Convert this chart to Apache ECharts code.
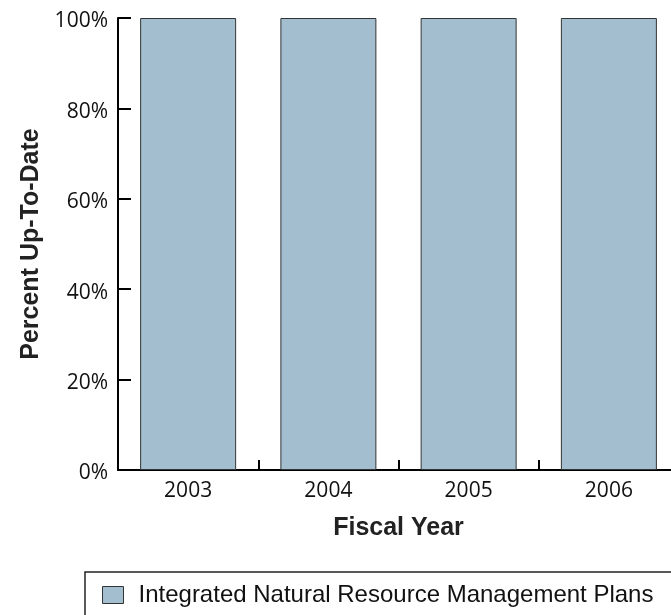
<!DOCTYPE html>
<html>
<head>
<meta charset="utf-8">
<script src="https://cdn.jsdelivr.net/npm/echarts@6/dist/echarts.min.js"></script>
<style>
html,body{margin:0;padding:0;background:#fff;overflow:hidden;}
#c{width:690px;height:630px;}
</style>
</head>
<body>
<div id="c"></div>
<script>
const categories = ['2003', '2004', '2005', '2006'];
const seriesName = 'Integrated Natural Resource Management Plans';
const values = [100, 100, 100, 100];
const yTicks = [0, 20, 40, 60, 80, 100];

const chart = echarts.init(document.getElementById('c'), null, {renderer: 'canvas'});
chart.setOption({
  animation: false,
  backgroundColor: '#ffffff',
  grid: {left: 118, top: 18, width: 561, height: 452, containLabel: false},
  legend: {
    left: 85, top: 572,
    data: [{name: seriesName, icon: 'rect'}],
    itemWidth: 21, itemHeight: 17, itemGap: 10,
    padding: [11, 40, 40, 17],
    borderColor: '#222', borderWidth: 1.5,
    textStyle: {fontFamily: 'Liberation Sans, Arial', fontSize: 24, color: '#111', padding: [0, 0, 0, 10]},
    itemStyle: {borderColor: '#333', borderWidth: 1}
  },
  xAxis: {
    type: 'category',
    data: categories,
    boundaryGap: true,
    name: 'Fiscal Year',
    nameLocation: 'middle',
    nameGap: 46,
    nameTextStyle: {fontFamily: 'Liberation Sans, Arial', fontWeight: 'bold', fontSize: 25, color: '#222'},
    axisLine: {show: true, lineStyle: {color: '#000', width: 2}},
    axisTick: {show: true, inside: true, length: 10, lineStyle: {color: '#000', width: 2}},
    axisLabel: {fontFamily: 'Open Sans', fontSize: 21, color: '#111', margin: 11}
  },
  yAxis: {
    type: 'value',
    min: 0, max: 100, interval: 20,
    name: 'Percent Up-To-Date',
    nameLocation: 'middle',
    nameGap: 72,
    nameRotate: 90,
    nameTextStyle: {fontFamily: 'Liberation Sans, Arial', fontWeight: 'bold', fontSize: 25, color: '#222'},
    axisLine: {show: true, lineStyle: {color: '#000', width: 2}},
    axisTick: {show: true, inside: true, length: 13, lineStyle: {color: '#000', width: 2}},
    splitLine: {show: false},
    axisLabel: {fontFamily: 'Open Sans', fontSize: 21, color: '#111', margin: 10,
      rich: {p: {fontFamily: 'Open Sans', fontSize: 21, color: '#111', padding: [7, 0, 0, 0]}},
      formatter: function (v) { return yTicks.indexOf(v) >= 0 ? '{p|' + v + '%}' : ''; }}
  },
  series: [{
    name: seriesName,
    type: 'bar',
    data: values,
    barWidth: 96,
    itemStyle: {color: '#a3bfcf', borderColor: '#333', borderWidth: 1}
  }]
});
</script>
</body>
</html>
